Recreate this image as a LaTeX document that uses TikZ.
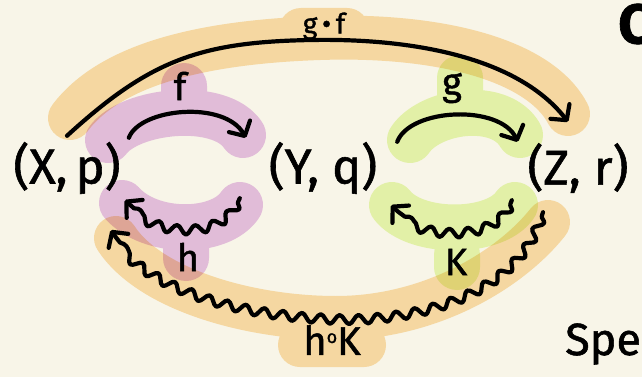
\documentclass[tikz,border=0pt]{standalone}
\usepackage{fontspec}
\setmainfont{Fira Sans}[FakeBold=1.2]
\usetikzlibrary{arrows.meta,decorations.pathmorphing}
\definecolor{bg}{HTML}{F8F5E8}
\definecolor{hlorange}{HTML}{FCE0B2}
\definecolor{hlpurple}{HTML}{E8C4EE}
\definecolor{hlgreen}{HTML}{E9FAB8}
\begin{document}
\begin{tikzpicture}[x=1pt,y=-1pt,
  hl/.style={line cap=round,line join=round},
  obj/.style={inner sep=0pt, minimum height=64pt, font=\fontsize{49}{49}\selectfont},
  lbl/.style={inner sep=0pt, font=\fontsize{38}{38}\selectfont},
  ink/.style={line width=4.2pt, line cap=round, line join=round},
  tip/.style={-{Straight Barb[length=11pt,width=24pt,round]}},
  wig/.style={decorate, decoration={snake, amplitude=4.5pt, segment length=19pt, pre length=4pt, post length=9pt}},
]
\useasboundingbox (0,0) rectangle (642,377);
\fill[bg] (0,0) rectangle (642,377);

\begin{scope}[blend mode=multiply]
\draw[hl, hlorange, line width=44pt]
  (70,118) .. controls (110,65) and (200,42) .. (320,38) .. controls (440,34) and (540,60) .. (568,114)
  (301,30) -- (347,30)
  (116,238) .. controls (150,290) and (250,318) .. (336,318) .. controls (430,318) and (510,270) .. (548,222)
  (300,345) -- (364,345);
\draw[hl, hlpurple, line width=46pt]
  (108,140) .. controls (130,110) and (220,100) .. (243,135)
  (184,86) -- (184,100)
  (122,203) .. controls (150,235) and (220,235) .. (240,205)
  (186,245) -- (186,258);
\draw[hl, hlgreen, line width=46pt]
  (410,140) .. controls (430,110) and (500,100) .. (520,135)
  (460,78) -- (460,100)
  (392,205) .. controls (415,235) and (495,235) .. (515,205)
  (457,255) -- (457,267);
\end{scope}

\node[obj, minimum width=104pt] (X) at (67,168) {(X,\,p)};
\node[obj, minimum width=122pt] (Y) at (323,168) {(Y, q)};
\node[obj, minimum width=114pt] (Z) at (578,168) {(Z, r)};

\node[lbl] (fl) at (180,86) {f};
\node[lbl] (gl) at (452,88) {g};
\node[lbl] (hl) at (188,257) {h};
\node[lbl] (kl) at (456,262) {K};
\node[inner sep=0pt, font=\fontsize{28}{28}\selectfont] (gfl) at (324,26) {g\,•\,f};
\node[inner sep=0pt, font=\fontsize{40}{40}\selectfont] (hkl) at (332,340) {h\raisebox{0.3em}{\fontsize{18}{18}\selectfont o}K};

\node[anchor=base west, inner sep=0pt, font=\fontsize{45}{45}\selectfont] (spe) at (565,355) {Spe};
\node[anchor=west, inner sep=0pt, font=\bfseries\fontsize{56}{56}\selectfont] (cc) at (618,24) {C};

\draw[ink,tip] ([xshift=8pt,yshift=-2pt]X.north east) .. controls (140,108) and (225,100) .. ([xshift=-16pt,yshift=-2pt]Y.north west);
\draw[ink,tip] ([xshift=13pt,yshift=-6pt]Y.north east) .. controls (410,108) and (500,104) .. ([xshift=-3pt,yshift=-6pt]Z.north west);
\draw[ink,tip] (X.north) .. controls (150,60) and (200,42) .. (311,40) .. controls (420,38) and (520,60) .. ([xshift=-10pt,yshift=14pt]Z.north);

\draw[ink,wig,tip] ([xshift=-22pt,yshift=2pt]Y.south west) .. controls (225,235) and (160,235) .. ([xshift=4pt]X.south east);
\draw[ink,wig,tip] ([xshift=-9pt]Z.south west) .. controls (500,238) and (420,238) .. ([xshift=7pt,yshift=-5pt]Y.south east);
\draw[ink,wig,tip] ([xshift=-35pt,yshift=-12pt]Z.south) .. controls (520,290) and (420,318) .. (336,315) .. controls (250,312) and (150,290) .. ([xshift=-10pt,yshift=-30pt]X.south east);
\end{tikzpicture}
\end{document}
